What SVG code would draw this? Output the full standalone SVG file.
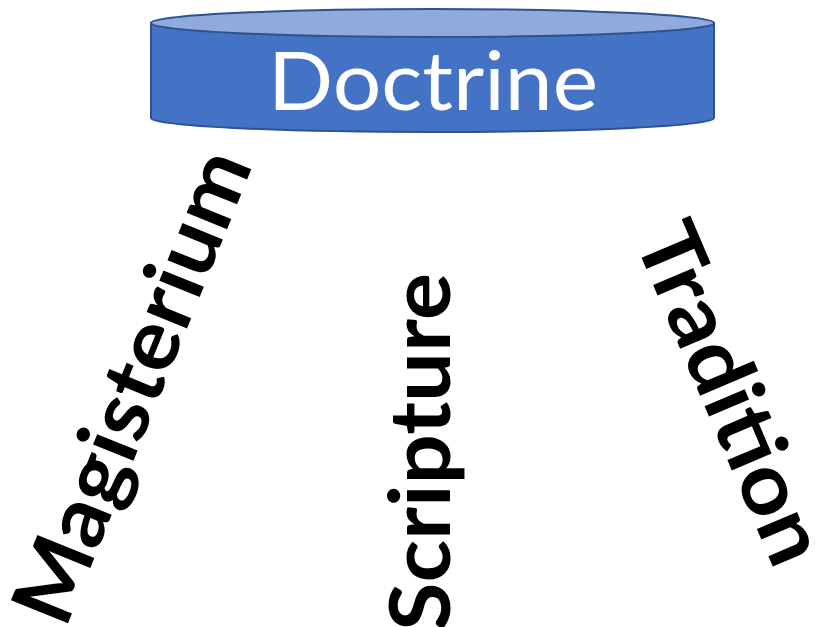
<svg xmlns="http://www.w3.org/2000/svg" width="815" height="627" viewBox="0 0 815 627">
<style>
.body{fill:#4472C4;stroke:#2F528F;stroke-width:2}
.top{fill:#8FAADC;stroke:#2F528F;stroke-width:2}
.title{font-family:Lato,"Open Sans","Liberation Sans",sans-serif;font-size:82px;fill:#FFFFFF}
.lbl{font-family:Lato,"Open Sans","Liberation Sans",sans-serif;font-weight:bold;font-size:85px;fill:#000000}
</style>
<rect width="815" height="627" fill="#FFFFFF"/>
<g id="doctrine">
<path class="body" d="M151,23 L151,118 A281.5,14 0 0 0 714,118 L714,23 Z"/>
<ellipse class="top" cx="432.5" cy="23" rx="281.5" ry="14"/>
<text class="title" x="433" y="110" text-anchor="middle" textLength="330" lengthAdjust="spacingAndGlyphs">Doctrine</text>
</g>
<g id="magisterium">
<text class="lbl" transform="translate(136,388) rotate(-68)" x="0" y="25" text-anchor="middle" textLength="502" lengthAdjust="spacingAndGlyphs">Magisterium</text>
</g>
<g id="scripture">
<text class="lbl" transform="translate(450,631) rotate(-90)" x="0" y="0" textLength="358" lengthAdjust="spacingAndGlyphs">Scripture</text>
</g>
<g id="tradition">
<text class="lbl" transform="translate(727,395) rotate(67)" x="0" y="25" text-anchor="middle" textLength="362" lengthAdjust="spacingAndGlyphs">Tradition</text>
</g>
<g id="connectors"></g>
</svg>
